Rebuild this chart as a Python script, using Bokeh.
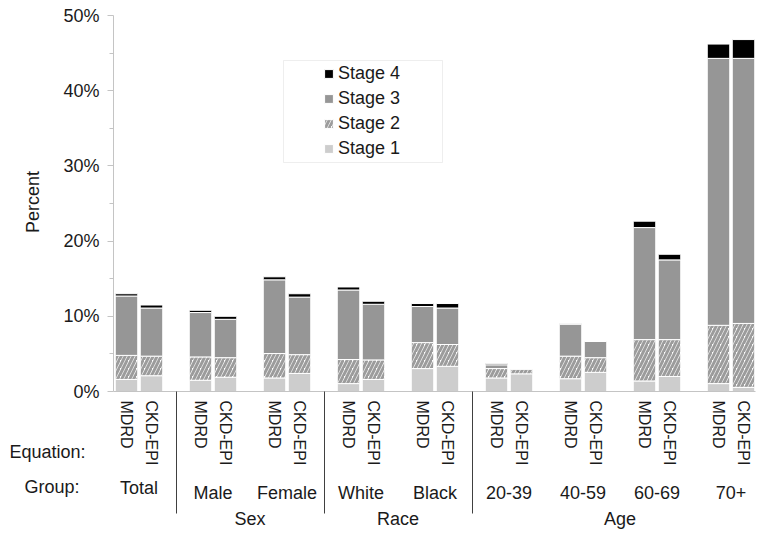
import math
from bokeh.plotting import figure
from bokeh.models import (Range1d, FixedTicker, PrintfTickFormatter, LinearAxis,
                          Legend, LegendItem, BoxAnnotation, Label, ColumnDataSource)
from bokeh.embed import file_html
from bokeh.resources import INLINE

FONT = "Liberation Sans"
INK = "#1a1a1a"
AXIS_GREY = "#c4c4c4"

# ---------------- data ----------------
supergroups = ["", "Sex", "Sex", "Race", "Race", "Age", "Age", "Age", "Age"]
groups = ["Total", "Male", "Female", "White", "Black", "20-39", "40-59", "60-69", "70+"]
equations = ["MDRD", "CKD-EPI"]
stages = ["Stage 1", "Stage 2", "Stage 3", "Stage 4"]

# percent of population, bar order: group by group, MDRD then CKD-EPI
stage1 = [1.6, 2.1, 1.5, 1.9, 1.8, 2.4, 1.05, 1.6, 3.05, 3.35, 1.8, 2.35, 1.7, 2.55, 1.4, 2.0, 1.05, 0.55]
stage2 = [3.2, 2.6, 3.1, 2.6, 3.25, 2.5, 3.2, 2.6, 3.45, 2.9, 1.25, 0.6, 3.0, 1.95, 5.5, 4.9, 7.75, 8.5]
stage3 = [7.9, 6.4, 5.9, 5.1, 9.8, 7.65, 9.25, 7.4, 4.8, 4.85, 0.5, 0.1, 4.25, 2.15, 14.9, 10.6, 35.5, 35.25]
stage4 = [0.3, 0.4, 0.3, 0.4, 0.4, 0.45, 0.4, 0.4, 0.4, 0.6, 0.15, 0.0, 0.05, 0.05, 0.85, 0.75, 1.9, 2.5]

y_ticks = [0, 10, 20, 30, 40, 50]
y_minor_ticks = [5, 15, 25, 35, 45]

# ---------------- layout constants (pixels) ----------------
W, H = 762, 533
PX_GROUP = 74.0          # distance between group centres
PX_FIRST = 138.5         # centre of first group
PX_PLOT_L, PX_PLOT_R = 113.0, 755.0
PX_ZERO, PX_PER_PCT = 391.0, 7.52
BAR_OFF = 12.5 / PX_GROUP
BAR_W = 22.5 / PX_GROUP

def gx(px):  # page x -> group units
    return (px - PX_FIRST) / PX_GROUP

x_left, x_right = gx(PX_PLOT_L), gx(PX_PLOT_R)

# bar positions
bar_x, bar_eq = [], []
for gi in range(len(groups)):
    for k, eq in enumerate(equations):
        bar_x.append(gi + (2 * k - 1) * BAR_OFF)
        bar_eq.append(eq)

source = ColumnDataSource(data={"x": bar_x, "Stage 1": stage1, "Stage 2": stage2,
                                "Stage 3": stage3, "Stage 4": stage4})

p = figure(width=W, height=H,
           x_range=Range1d(gx(0), gx(W)),
           y_range=Range1d(-(H - PX_ZERO) / PX_PER_PCT, PX_ZERO / PX_PER_PCT),
           x_axis_type=None, y_axis_type=None,
           output_backend="svg", toolbar_location=None, min_border=0)
p.title.visible = False
p.outline_line_color = None

renderers = p.vbar_stack(stages, x="x", width=BAR_W, source=source,
                         fill_color=["#cdcdcd", "white", "#969696", "#000000"],
                         line_color="white", line_width=1,
                         hatch_pattern=[" ", "/", " ", " "],
                         hatch_color="#9c9c9c", hatch_scale=8, hatch_weight=3)

# ---------------- y axis ----------------
ya = LinearAxis(fixed_location=x_left, bounds=(0, 50),
                ticker=FixedTicker(ticks=y_ticks, minor_ticks=y_minor_ticks),
                formatter=PrintfTickFormatter(format="%d%%"))
ya.axis_line_color = AXIS_GREY
ya.major_tick_line_color = AXIS_GREY
ya.minor_tick_line_color = AXIS_GREY
ya.major_tick_out, ya.major_tick_in = 6, 0
ya.minor_tick_out, ya.minor_tick_in = 4, 0
ya.major_label_standoff = 8
ya.major_label_text_font = FONT
ya.major_label_text_font_size = "18px"
ya.major_label_text_color = INK
p.add_layout(ya, "left")

p.add_layout(Label(x=32, y=H - 201.5, x_units="screen", y_units="screen", text="Percent",
                   angle=math.pi / 2, text_font=FONT, text_font_size="18px",
                   text_color=INK, text_align="center", text_baseline="middle"))

# ---------------- category axes ----------------
def cat_axis(ticks, labels, standoff, size="18px", orient="horizontal", line=None,
             tick_out=0, tick_color=None):
    ax = LinearAxis(fixed_location=0, bounds=(x_left, x_right),
                    ticker=FixedTicker(ticks=ticks, minor_ticks=[]),
                    major_label_overrides={t: l for t, l in zip(ticks, labels)})
    ax.axis_line_color = line
    ax.major_tick_line_color = tick_color
    ax.major_tick_out, ax.major_tick_in = tick_out, 0
    ax.minor_tick_line_color = None
    ax.major_label_orientation = orient
    ax.major_label_standoff = standoff
    ax.major_label_text_font = FONT
    ax.major_label_text_font_size = size
    ax.major_label_text_color = INK if labels else None
    p.add_layout(ax, "below")
    return ax

# equation row (vertical labels) + axis line
cat_axis(bar_x, bar_eq, 9, size="16px", orient="vertical", line=AXIS_GREY)

# group row: groups with no super-group sit a little higher
solo = [gi for gi, sg in enumerate(supergroups) if sg == ""]
inner = [gi for gi, sg in enumerate(supergroups) if sg != ""]
cat_axis([float(g) for g in solo], [groups[g] for g in solo], 86)
cat_axis([float(g) for g in inner], [groups[g] for g in inner], 91)

# super-group row
sg_names = [s for s in dict.fromkeys(supergroups) if s]
sg_pos = [sum(i for i, s in enumerate(supergroups) if s == n) / supergroups.count(n) for n in sg_names]
cat_axis(sg_pos, sg_names, 117)

# separators between super-groups
sep_pos = [i + 0.5 for i in range(len(supergroups) - 1) if supergroups[i] != supergroups[i + 1]]
sep = cat_axis(sep_pos, [""] * len(sep_pos), 0, tick_out=122, tick_color="#404040")
sep.major_label_text_color = None

# row captions
for txt, xr, yc in [("Equation:", 85, 451.5), ("Group:", 79, 486)]:
    p.add_layout(Label(x=xr, y=H - yc, x_units="screen", y_units="screen", text=txt,
                       text_font=FONT, text_font_size="18px", text_color=INK,
                       text_align="right", text_baseline="middle"))

# ---------------- legend ----------------
p.add_layout(BoxAnnotation(left=283, right=442, top=H - 60, bottom=H - 162,
                           left_units="screen", right_units="screen",
                           top_units="screen", bottom_units="screen",
                           fill_color="white", fill_alpha=1.0,
                           line_color="#c8c8c8", line_width=1))

items = [LegendItem(label=s, renderers=[r]) for s, r in zip(stages, renderers)][::-1]
legend = Legend(items=items, location=(323, H - 158.5), padding=0, margin=0, spacing=4,
                glyph_width=11, glyph_height=11, label_standoff=4, label_height=21,
                label_text_font=FONT, label_text_font_size="18px", label_text_color=INK,
                border_line_alpha=0, background_fill_alpha=0)
p.add_layout(legend, "center")

open("out.html", "w").write(file_html(p, INLINE))
